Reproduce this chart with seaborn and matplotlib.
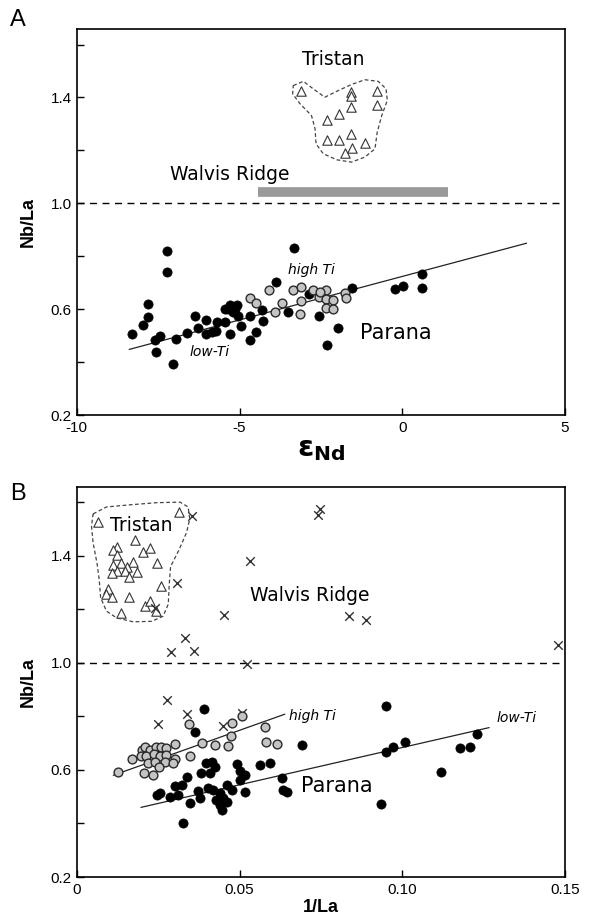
import numpy as np
import pandas as pd
import matplotlib
matplotlib.use("Agg")
import matplotlib.pyplot as plt
import seaborn as sns

# ---------------- data: panel A (eps Nd vs Nb/La) ----------------
xA_low = [-7.22, -7.22, -3.32, -7.81, -7.81, -7.98, -8.32, -7.60, -7.45, -7.58, -7.06, -6.94,
          -6.63, -6.37, -6.27, -6.03, -6.03, -5.86, -5.71, -5.69, -5.45, -5.45, -5.30, -5.09,
          -5.19, -5.04, -5.28, -4.97, -4.68, -4.68, -4.50, -4.29, -4.32, -3.88, -3.50, -2.86,
          -2.55, -1.97, -2.31, -1.56, -0.22, 0.01, 0.60, 0.60, -5.35, -5.15]
yA_low = [0.82, 0.74, 0.83, 0.62, 0.57, 0.54, 0.506, 0.486, 0.498, 0.44, 0.395, 0.487,
          0.51, 0.577, 0.53, 0.56, 0.506, 0.514, 0.52, 0.552, 0.552, 0.603, 0.615, 0.615,
          0.59, 0.577, 0.508, 0.537, 0.577, 0.486, 0.514, 0.558, 0.596, 0.703, 0.59, 0.66,
          0.574, 0.53, 0.467, 0.68, 0.677, 0.687, 0.735, 0.682, 0.60, 0.60]
xA_high = [-4.68, -4.50, -4.09, -3.91, -3.71, -3.35, -3.12, -3.12, -3.14, -2.73, -2.55, -2.35,
           -2.33, -2.14, -2.35, -2.14, -1.76, -1.73, -2.53]
yA_high = [0.644, 0.625, 0.675, 0.59, 0.626, 0.675, 0.684, 0.631, 0.584, 0.675, 0.646, 0.675,
           0.638, 0.634, 0.605, 0.603, 0.661, 0.644, 0.665]
xA_tri = [-3.12, -1.59, -1.59, -0.79, -1.59, -0.79, -2.32, -1.95, -2.32, -1.95, -1.59, -1.15, -1.56, -1.76]
yA_tri = [1.424, 1.42, 1.404, 1.424, 1.363, 1.373, 1.316, 1.339, 1.24, 1.24, 1.263, 1.228, 1.21, 1.19]
lineA_x = [-8.39, 3.82]
lineA_y = [0.449, 0.85]
walvisA_x = [-4.44, 1.40]
walvisA_y = [1.045, 1.045]
outlineA_x = [-3.35, -3.04, -2.74, -2.38, -1.97, -1.56, -1.15, -0.74, -0.50, -0.46, -0.63, -0.77,
              -0.84, -1.15, -1.56, -2.02, -2.43, -2.65, -2.68, -2.79, -3.14, -3.37, -3.35]
outlineA_y = [1.445, 1.461, 1.433, 1.401, 1.426, 1.449, 1.467, 1.461, 1.433, 1.389, 1.332, 1.269,
              1.206, 1.175, 1.156, 1.165, 1.188, 1.225, 1.282, 1.332, 1.376, 1.414, 1.445]

# ---------------- data: panel B (1/La vs Nb/La) ----------------
xB_tri = [0.0066, 0.0314, 0.0178, 0.0124, 0.0112, 0.0124, 0.0204, 0.0224, 0.0173, 0.0245, 0.0112,
          0.0137, 0.0153, 0.0122, 0.0147, 0.0185, 0.0161, 0.0107, 0.0096, 0.0091, 0.0107, 0.0260,
          0.0161, 0.0209, 0.0224, 0.0243, 0.0137]
yB_tri = [1.527, 1.565, 1.460, 1.433, 1.423, 1.404, 1.412, 1.429, 1.378, 1.372, 1.365,
          1.372, 1.359, 1.344, 1.344, 1.340, 1.321, 1.334, 1.276, 1.257, 1.244, 1.288,
          1.244, 1.212, 1.231, 1.193, 1.187]
xB_wr = [0.0355, 0.0308, 0.0532, 0.0240, 0.0452, 0.0332, 0.0746, 0.0741, 0.0837, 0.0889, 0.1479,
         0.0288, 0.0359, 0.0524, 0.0277, 0.0337, 0.0248, 0.0448, 0.0506]
yB_wr = [1.549, 1.298, 1.382, 1.204, 1.177, 1.094, 1.573, 1.552, 1.174, 1.158, 1.066,
         1.040, 1.044, 0.994, 0.860, 0.809, 0.770, 0.764, 0.812]
xB_high = [0.0125, 0.0168, 0.0199, 0.0209, 0.0224, 0.0243, 0.0258, 0.0273, 0.0303, 0.0196, 0.0214,
           0.0237, 0.0255, 0.0273, 0.0301, 0.0219, 0.0240, 0.0270, 0.0294, 0.0206, 0.0234, 0.0252,
           0.0345, 0.0347, 0.0386, 0.0424, 0.0465, 0.0473, 0.0478, 0.0508, 0.0578, 0.0580, 0.0615]
yB_high = [0.593, 0.640, 0.674, 0.684, 0.674, 0.687, 0.687, 0.682, 0.697, 0.652, 0.652,
           0.659, 0.652, 0.656, 0.639, 0.627, 0.631, 0.631, 0.624, 0.589, 0.580, 0.611,
           0.771, 0.652, 0.702, 0.694, 0.690, 0.725, 0.777, 0.803, 0.761, 0.704, 0.695]
xB_low = [0.0390, 0.0363, 0.0693, 0.0398, 0.0414, 0.0424, 0.0409, 0.0383, 0.0337, 0.0322, 0.0303,
          0.0255, 0.0245, 0.0286, 0.0311, 0.0347, 0.0327, 0.0373, 0.0378, 0.0404, 0.0419, 0.0440,
          0.0460, 0.0429, 0.0440, 0.0450, 0.0460, 0.0445, 0.0476, 0.0491, 0.0501, 0.0516, 0.0501,
          0.0516, 0.0562, 0.0593, 0.0629, 0.0634, 0.0646, 0.0951, 0.0970, 0.0951, 0.1007, 0.1120,
          0.0936, 0.1177, 0.1207, 0.1230]
yB_low = [0.827, 0.742, 0.693, 0.624, 0.631, 0.611, 0.589, 0.589, 0.573, 0.545, 0.539,
          0.513, 0.506, 0.500, 0.506, 0.475, 0.401, 0.521, 0.494, 0.532, 0.526, 0.513,
          0.545, 0.487, 0.468, 0.494, 0.481, 0.449, 0.526, 0.621, 0.596, 0.582, 0.563,
          0.519, 0.618, 0.624, 0.568, 0.526, 0.517, 0.837, 0.687, 0.666, 0.704, 0.593,
          0.471, 0.682, 0.687, 0.735]
lineB_high_x = [0.0112, 0.0639]
lineB_high_y = [0.580, 0.808]
lineB_low_x = [0.0197, 0.1267]
lineB_low_y = [0.460, 0.758]
outlineB_x = [0.0050, 0.0091, 0.0163, 0.0245, 0.0317, 0.0342, 0.0347, 0.0337, 0.0314, 0.0288, 0.0284,
              0.0281, 0.0265, 0.0230, 0.0173, 0.0122, 0.0091, 0.0073, 0.0069, 0.0062, 0.0050, 0.0045, 0.0050]
outlineB_y = [1.556, 1.582, 1.590, 1.598, 1.600, 1.582, 1.537, 1.486, 1.422, 1.359, 1.295,
              1.219, 1.174, 1.155, 1.153, 1.168, 1.193, 1.244, 1.308, 1.372, 1.448, 1.511, 1.556]

# ticks
y_major = [0.2, 0.6, 1.0, 1.4]
y_major_labels = ["0.2", "0.6", "1.0", "1.4"]
y_minor = [0.4, 0.8, 1.2, 1.6]
xA_ticks = [-10, -5, 0, 5]
xA_labels = ["-10", "-5", "0", "5"]
xB_ticks = [0, 0.05, 0.10, 0.15]
xB_labels = ["0", "0.05", "0.10", "0.15"]

# ---------------- style ----------------
sns.set_style("ticks")
plt.rcParams['font.family'] = ['DejaVu Sans']
plt.rcParams['mathtext.fontset'] = 'dejavusans'
plt.rcParams['text.color'] = 'black'
plt.rcParams['axes.labelcolor'] = 'black'

fig = plt.figure(figsize=(5.91, 9.19), dpi=100)
axA = fig.add_axes([0.130, 0.548, 0.826, 0.420])
axB = fig.add_axes([0.130, 0.0457, 0.826, 0.4245])

BLACK_KW = dict(color="black", edgecolor="black", s=44, linewidth=0.5, zorder=4)
GREY_KW = dict(color="#c4c4c4", edgecolor="#2a2a2a", s=40, linewidth=1.0, zorder=5)
TRI_KW = dict(marker="^", color="white", edgecolor="#333333", s=46, linewidth=0.8, zorder=4)
X_KW = dict(marker="x", color="#333333", s=38, linewidth=1.0, zorder=4)
tickfont = "Liberation Sans"


def style_axes(ax, xlim, xt, xtl, xlabel, xlabel_kw):
    ax.set_xlim(*xlim)
    ax.set_ylim(0.2, 1.657)
    ax.set_xticks(xt)
    ax.set_xticklabels(xtl, family=tickfont, fontsize=11, color="black")
    ax.set_yticks(y_major)
    ax.set_yticklabels(y_major_labels, family=tickfont, fontsize=11, color="black")
    ax.set_yticks(y_minor, minor=True)
    ax.tick_params(axis="both", which="both", direction="in", length=5, width=1.0,
                   top=False, right=False, color="black")
    ax.tick_params(axis="x", pad=4)
    for sp in ax.spines.values():
        sp.set_visible(True)
        sp.set_linewidth(1.2)
        sp.set_color("black")
    ax.set_ylabel("Nb/La", family=tickfont, fontweight="bold", fontsize=13, labelpad=10)
    ax.set_xlabel(xlabel, **xlabel_kw)
    ax.axhline(1.0, color="black", lw=1.0, dashes=(5, 4), zorder=2)


# ---------------- panel A ----------------
dfA_low = pd.DataFrame({"x": xA_low, "y": yA_low})
dfA_high = pd.DataFrame({"x": xA_high, "y": yA_high})
dfA_tri = pd.DataFrame({"x": xA_tri, "y": yA_tri})

sns.lineplot(x=lineA_x, y=lineA_y, ax=axA, color="#222222", lw=0.9, estimator=None, sort=False, zorder=3)
sns.scatterplot(data=dfA_low, x="x", y="y", ax=axA, **BLACK_KW)
sns.scatterplot(data=dfA_high, x="x", y="y", ax=axA, **GREY_KW)
sns.scatterplot(data=dfA_tri, x="x", y="y", ax=axA, **TRI_KW)
axA.plot(walvisA_x, walvisA_y, color="#9a9a9a", lw=7, solid_capstyle="butt", zorder=3)
axA.plot(outlineA_x, outlineA_y, color="#444444", lw=0.9, dashes=(3, 2), zorder=3)

axA.text(-2.13, 1.545, "Tristan", fontsize=13.5, ha="center", va="center")
axA.text(-7.15, 1.11, "Walvis Ridge", fontsize=13.5, ha="left", va="center")
axA.text(-1.3, 0.51, "Parana", fontsize=15, ha="left", va="center")
axA.text(-3.5, 0.747, "high Ti", fontsize=10, style="italic", ha="left", va="center")
axA.text(-6.55, 0.438, "low-Ti", fontsize=10, style="italic", ha="left", va="center")

style_axes(axA, (-10, 5), xA_ticks, xA_labels, r"$\mathbf{\varepsilon}_{\mathbf{Nd}}$",
           dict(fontsize=21, labelpad=0))

# ---------------- panel B ----------------
dfB_low = pd.DataFrame({"x": xB_low, "y": yB_low})
dfB_high = pd.DataFrame({"x": xB_high, "y": yB_high})
dfB_tri = pd.DataFrame({"x": xB_tri, "y": yB_tri})
dfB_wr = pd.DataFrame({"x": xB_wr, "y": yB_wr})

sns.lineplot(x=lineB_high_x, y=lineB_high_y, ax=axB, color="#222222", lw=0.9, estimator=None, sort=False, zorder=3)
sns.lineplot(x=lineB_low_x, y=lineB_low_y, ax=axB, color="#222222", lw=0.9, estimator=None, sort=False, zorder=3)
sns.scatterplot(data=dfB_low, x="x", y="y", ax=axB, **BLACK_KW)
sns.scatterplot(data=dfB_high, x="x", y="y", ax=axB, **GREY_KW)
sns.scatterplot(data=dfB_tri, x="x", y="y", ax=axB, **TRI_KW)
sns.scatterplot(data=dfB_wr, x="x", y="y", ax=axB, **X_KW)
axB.plot(outlineB_x, outlineB_y, color="#444444", lw=0.9, dashes=(3, 2), zorder=3)

axB.text(0.0101, 1.511, "Tristan", fontsize=13.5, ha="left", va="center")
axB.text(0.0532, 1.25, "Walvis Ridge", fontsize=13.5, ha="left", va="center")
axB.text(0.0690, 0.54, "Parana", fontsize=15, ha="left", va="center")
axB.text(0.0652, 0.80, "high Ti", fontsize=10, style="italic", ha="left", va="center")
axB.text(0.1290, 0.795, "low-Ti", fontsize=10, style="italic", ha="left", va="center")

style_axes(axB, (0, 0.15), xB_ticks, xB_labels, "1/La",
           dict(family=tickfont, fontweight="bold", fontsize=13, labelpad=2))

# panel letters
fig.text(0.017, 0.978, "A", fontsize=17, family=tickfont, ha="left", va="center")
fig.text(0.017, 0.463, "B", fontsize=17, family=tickfont, ha="left", va="center")

fig.savefig("out.png", dpi=100)
